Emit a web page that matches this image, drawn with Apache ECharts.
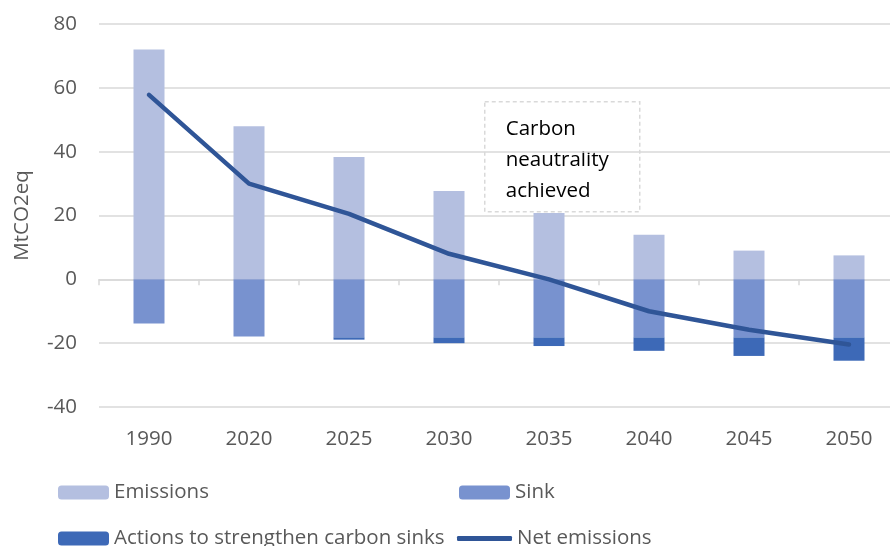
<!DOCTYPE html>
<html>
<head>
<meta charset="utf-8">
<script src="https://cdn.jsdelivr.net/npm/echarts@6/dist/echarts.min.js"></script>
<style>
  html, body { margin: 0; padding: 0; background: #fff; }
  #chart { width: 890px; height: 546px; }
</style>
</head>
<body>
<div id="chart"></div>
<script>
// Yearly balance, MtCO2eq
const years = ['1990', '2020', '2025', '2030', '2035', '2040', '2045', '2050'];
const emissions = [72, 48, 38.3, 27.7, 20.8, 14, 9, 7.5];
const sink = [-13.8, -17.9, -18.2, -18.2, -18.2, -18.2, -18.2, -18.2];
const sinkActions = [0, 0, -0.7, -1.8, -2.7, -4.2, -5.8, -7.3];
const netEmissions = [57.8, 30, 20.5, 8, 0, -10, -15.8, -20.4];
const yTicks = [-40, -20, 0, 20, 40, 60, 80];

const FONT = '"Open Sans", "Noto Sans", sans-serif';
const FS = 20.5;
const GREY = '#595959';
const LINE = '#d9d9d9';

const chart = echarts.init(document.getElementById('chart'), null, { renderer: 'canvas' });

const legendText = { fontFamily: FONT, fontSize: FS, color: GREY };
function legendAt(item, left, top, extra) {
  return Object.assign({
    data: [item], left: left, top: top, orient: 'horizontal',
    itemWidth: 51, itemHeight: 14, padding: 0,
    textStyle: legendText, selectedMode: false
  }, extra || {});
}

chart.setOption({
  animation: false,
  backgroundColor: '#fff',
  // the plot runs slightly past the right edge of the canvas
  grid: { left: 99, right: -9, top: 24, bottom: 139, containLabel: false, outerBoundsMode: 'none' },
  legend: [
    legendAt('Emissions', 58, 482),
    legendAt('Sink', 459, 482),
    legendAt('Actions to strengthen carbon sinks', 58, 528),
    legendAt({ name: 'Net emissions', icon: 'roundRect' }, 457, 528,
      { itemWidth: 55, itemHeight: 5 })
  ],
  xAxis: [
    {
      type: 'category', data: years, position: 'bottom',
      axisLine: { show: false, onZero: false },
      axisTick: { show: false },
      axisLabel: { fontFamily: FONT, fontSize: FS, color: GREY, margin: 22 }
    },
    {
      // zero baseline with boundary ticks
      type: 'category', data: years, position: 'bottom',
      axisLine: { show: true, onZero: true, lineStyle: { color: LINE, width: 1.5 } },
      axisTick: { show: true, length: 6, lineStyle: { color: LINE, width: 1.5 } },
      axisLabel: { show: false }
    }
  ],
  yAxis: {
    type: 'value', min: yTicks[0], max: yTicks[yTicks.length - 1], interval: 20,
    name: 'MtCO2eq', nameLocation: 'middle', nameGap: 66, nameRotate: 90,
    nameTextStyle: { fontFamily: FONT, fontSize: FS, color: GREY },
    axisLine: { show: false }, axisTick: { show: false },
    axisLabel: { fontFamily: FONT, fontSize: FS, color: GREY, margin: 22 },
    splitLine: { lineStyle: { color: LINE, width: 1.5 } }
  },
  series: [
    {
      name: 'Emissions', type: 'bar', stack: 'balance', data: emissions,
      barWidth: '31%', itemStyle: { color: '#b4bfe0' }
    },
    {
      name: 'Sink', type: 'bar', stack: 'balance', data: sink,
      barWidth: '31%', itemStyle: { color: '#7892cf' }
    },
    {
      name: 'Actions to strengthen carbon sinks', type: 'bar', stack: 'balance', data: sinkActions,
      barWidth: '31%', itemStyle: { color: '#3d69b7' }
    },
    {
      name: 'Net emissions', type: 'line', data: netEmissions,
      symbol: 'none', z: 5,
      lineStyle: { color: '#2f5597', width: 4.5, cap: 'round', join: 'round' },
      itemStyle: { color: '#2f5597' }
    }
  ],
  graphic: [
    {
      type: 'group', left: 484, top: 101, z: 10,
      children: [
        {
          type: 'rect', shape: { x: 0, y: 0, width: 155, height: 110 },
          style: { fill: '#fff', stroke: LINE, lineWidth: 1.5, lineDash: [4, 3] }
        },
        {
          type: 'text', x: 21, y: 12,
          style: {
            text: 'Carbon\nneautrality\nachieved',
            fontFamily: FONT, fontSize: FS, lineHeight: 31, fill: '#000'
          }
        }
      ]
    }
  ]
});
</script>
</body>
</html>
